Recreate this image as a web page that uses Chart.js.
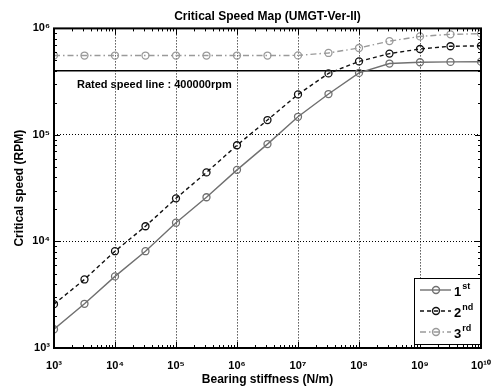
<!DOCTYPE html>
<html>
<head>
<meta charset="utf-8">
<script src="https://cdn.jsdelivr.net/npm/chart.js@4"></script>
<style>
  html, body { margin: 0; padding: 0; background: #fff; }
  #wrap { width: 495px; height: 388px; }
</style>
</head>
<body>
<div id="wrap"><canvas id="speedChart"></canvas></div>
<script>
// bearing stiffness (N/m), half-decade steps
const stiffness = [1e3, 3.16e3, 1e4, 3.16e4, 1e5, 3.16e5, 1e6, 3.16e6, 1e7, 3.16e7, 1e8, 3.16e8, 1e9, 3.16e9, 1e10];
// critical speeds (RPM)
const mode1 = [1500, 2600, 4700, 8100, 15000, 26000, 47000, 82000, 148000, 242000, 382000, 468000, 481000, 485000, 487000];
const mode2 = [2580, 4400, 8100, 13900, 25400, 44500, 80000, 138000, 240000, 378000, 490000, 580000, 641000, 680000, 685000];
const mode3 = [556000, 556000, 556000, 556000, 556000, 556000, 556000, 556000, 558000, 588000, 655000, 760000, 841000, 879000, 892000];
const ratedSpeed = 400000;
const ratedRange = [1e3, 1e10];
const xDecades = [1e3, 1e4, 1e5, 1e6, 1e7, 1e8, 1e9, 1e10];
const yDecades = [1e3, 1e4, 1e5, 1e6];
const legendNames = [['1', 'st'], ['2', 'nd'], ['3', 'rd']];

const FONT = "'Liberation Sans', Arial, sans-serif";
const sup = { '0': '⁰', '1': '¹', '2': '²', '3': '³', '4': '⁴', '5': '⁵', '6': '⁶', '7': '⁷', '8': '⁸', '9': '⁹' };
const powLabel = v => '10' + String(Math.round(Math.log10(v))).split('').map(c => sup[c]).join('');

const toPts = ys => stiffness.map((x, i) => ({ x: x, y: ys[i] }));

const styles = [
  { color: '#707070', dash: [] },
  { color: '#111111', dash: [4, 3] },
  { color: '#9a9a9a', dash: [6, 3, 1.5, 3] }
];

const mkSet = (label, ys, st) => ({
  label: label,
  data: toPts(ys),
  borderColor: st.color,
  borderWidth: 1.4,
  borderDash: st.dash,
  pointStyle: 'circle',
  pointRadius: 3.5,
  pointBorderWidth: 1.3,
  pointBorderColor: st.color,
  pointBackgroundColor: 'rgba(0,0,0,0)',
  tension: 0
});

// frame, inward minor ticks, rated-speed label and MATLAB-style legend
const decorPlugin = {
  id: 'decor',
  afterDraw(chart) {
    const ctx = chart.ctx;
    const { left, right, top, bottom } = chart.chartArea;
    const xs = chart.scales.x, ys = chart.scales.y;
    ctx.save();
    ctx.strokeStyle = '#000';
    ctx.lineWidth = 1;
    ctx.setLineDash([]);
    ctx.beginPath();
    for (let e = 3; e <= 9; e++) {
      for (let m = 1; m <= 10; m++) {
        const px = Math.round(xs.getPixelForValue(m * Math.pow(10, e))) + 0.5;
        const len = (m === 1 || m === 10) ? 6 : 3;
        ctx.moveTo(px, bottom); ctx.lineTo(px, bottom - len);
        ctx.moveTo(px, top); ctx.lineTo(px, top + len);
      }
    }
    for (let e = 3; e <= 5; e++) {
      for (let m = 1; m <= 10; m++) {
        const py = Math.round(ys.getPixelForValue(m * Math.pow(10, e))) + 0.5;
        const len = (m === 1 || m === 10) ? 6 : 3;
        ctx.moveTo(left, py); ctx.lineTo(left + len, py);
        ctx.moveTo(right, py); ctx.lineTo(right - len, py);
      }
    }
    ctx.stroke();
    ctx.lineWidth = 2;
    ctx.strokeRect(left, top, right - left, bottom - top);

    // rated speed label
    ctx.fillStyle = '#000';
    ctx.font = 'bold 11px ' + FONT;
    ctx.textBaseline = 'top';
    ctx.textAlign = 'left';
    ctx.fillText('Rated speed line : 400000rpm', xs.getPixelForValue(ratedRange[0]) + 23, ys.getPixelForValue(ratedSpeed) + 9);

    // legend box
    const bx = right - 67, by = bottom - 70, bw = 66, bh = 66;
    ctx.fillStyle = '#fff';
    ctx.fillRect(bx, by, bw, bh);
    ctx.lineWidth = 1;
    ctx.strokeStyle = '#000';
    ctx.strokeRect(bx + 0.5, by + 0.5, bw, bh);
    legendNames.forEach((nm, i) => {
      const st = styles[i];
      const cy = by + 12 + i * 21;
      ctx.strokeStyle = st.color;
      ctx.lineWidth = 1.4;
      ctx.setLineDash(st.dash);
      ctx.beginPath();
      ctx.moveTo(bx + 6, cy); ctx.lineTo(bx + 37, cy);
      ctx.stroke();
      ctx.setLineDash([]);
      ctx.beginPath();
      ctx.arc(bx + 22, cy, 3.5, 0, Math.PI * 2);
      ctx.stroke();
      ctx.fillStyle = '#000';
      ctx.textBaseline = 'alphabetic';
      ctx.font = 'bold 13px ' + FONT;
      ctx.fillText(nm[0], bx + 40, cy + 6);
      const w = ctx.measureText(nm[0]).width;
      ctx.font = 'bold 9px ' + FONT;
      ctx.fillText(nm[1], bx + 40 + w + 1, cy - 1);
    });
    ctx.restore();
  }
};

const ctx = document.getElementById('speedChart').getContext('2d');
new Chart(ctx, {
  type: 'line',
  data: {
    datasets: [
      mkSet('1st', mode1, styles[0]),
      mkSet('2nd', mode2, styles[1]),
      mkSet('3rd', mode3, styles[2]),
      {
        label: 'Rated speed line',
        data: ratedRange.map(x => ({ x: x, y: ratedSpeed })),
        borderColor: '#000',
        borderWidth: 1.6,
        pointRadius: 0
      }
    ]
  },
  options: {
    responsive: true,
    maintainAspectRatio: false,
    animation: false,
    layout: { padding: { left: 0, right: 14, top: 0, bottom: 0 } },
    plugins: {
      legend: { display: false },
      tooltip: { enabled: false },
      title: {
        display: true,
        fullSize: false,
        text: 'Critical Speed Map (UMGT-Ver-II)',
        color: '#000',
        font: { family: FONT, size: 12, weight: 'bold' },
        padding: { top: 9, bottom: 5 }
      }
    },
    scales: {
      x: {
        type: 'logarithmic',
        min: 1e3,
        max: 1e10,
        afterBuildTicks: s => { s.ticks = xDecades.map(v => ({ value: v })); },
        afterFit: s => { s.height = 40; s.paddingLeft = 0; s.paddingRight = 0; },
        ticks: {
          autoSkip: false,
          maxRotation: 0,
          padding: 11,
          color: '#000',
          font: { family: FONT, size: 11, weight: 'bold' },
          callback: v => powLabel(v)
        },
        grid: { color: '#000', lineWidth: 1, drawTicks: false },
        border: { display: false, dash: [1, 2] },
        title: {
          display: true,
          text: 'Bearing stiffness (N/m)',
          color: '#000',
          font: { family: FONT, size: 12, weight: 'bold' },
          padding: { top: 0, bottom: 1 }
        }
      },
      y: {
        type: 'logarithmic',
        min: 1e3,
        max: 1e6,
        afterBuildTicks: s => { s.ticks = yDecades.map(v => ({ value: v })); },
        afterFit: s => { s.width = 54; },
        ticks: {
          autoSkip: false,
          padding: 4,
          color: '#000',
          font: { family: FONT, size: 11, weight: 'bold' },
          callback: v => powLabel(v)
        },
        grid: { color: '#000', lineWidth: 1, drawTicks: false },
        border: { display: false, dash: [1, 2] },
        title: {
          display: true,
          text: 'Critical speed (RPM)',
          color: '#000',
          font: { family: FONT, size: 12, weight: 'bold' },
          padding: { top: 12, bottom: 0 }
        }
      }
    }
  },
  plugins: [decorPlugin]
});
</script>
</body>
</html>
